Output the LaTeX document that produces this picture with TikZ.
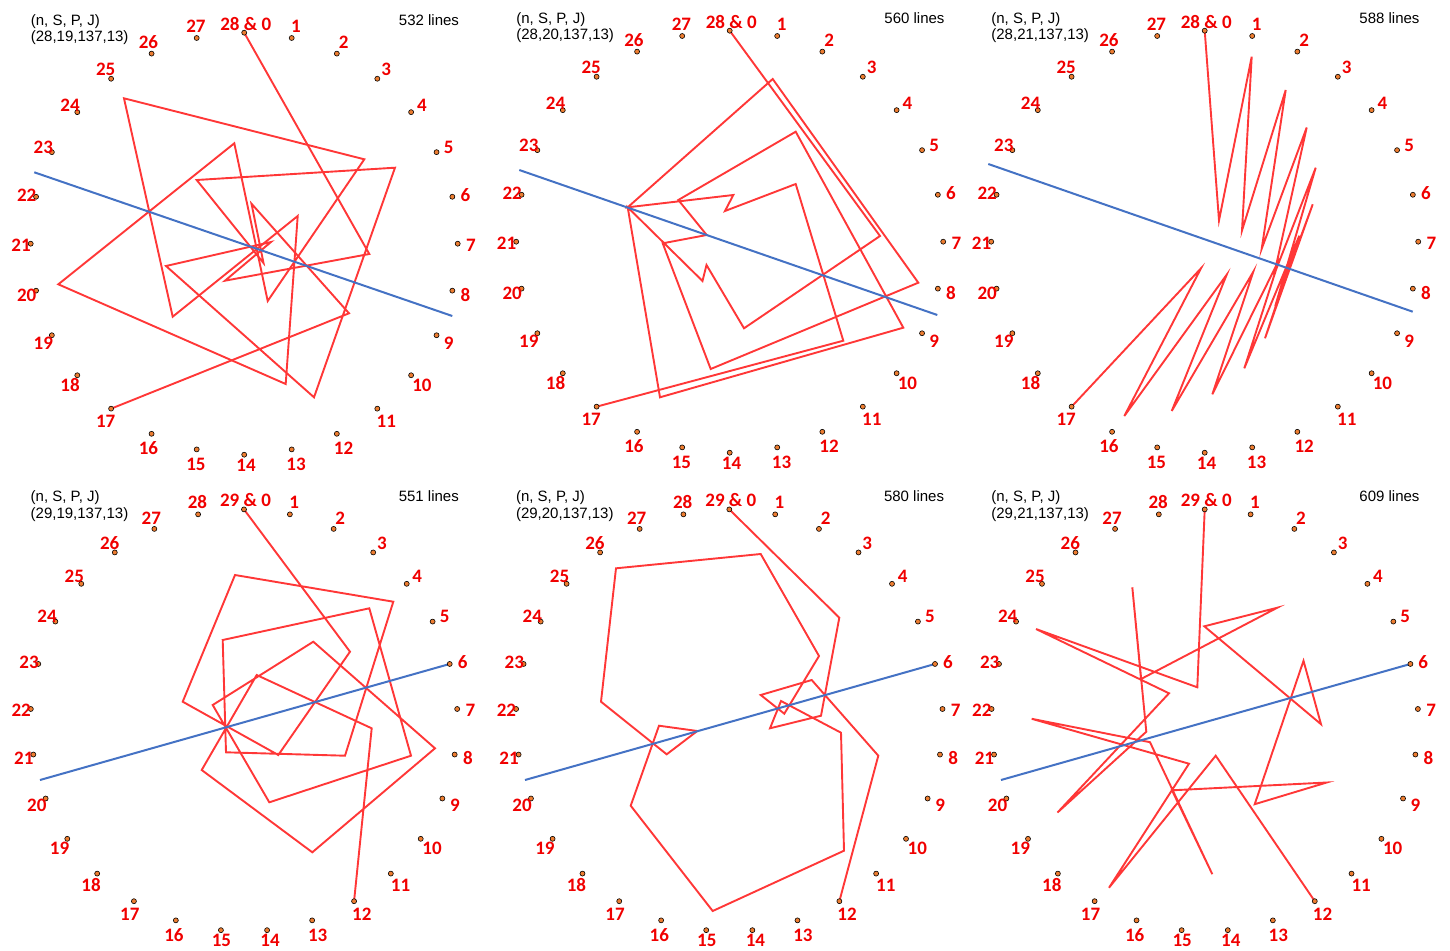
\documentclass[tikz,border=0pt]{standalone}
\usepackage{fontspec}
\newfontfamily\numfont{Carlito}
\newfontfamily\headfont{Liberation Sans}
\usetikzlibrary{backgrounds}
\definecolor{numred}{RGB}{240,0,0}
\definecolor{pathred}{RGB}{255,55,55}
\definecolor{mirrorblue}{RGB}{68,114,196}
\definecolor{dotorange}{RGB}{237,125,49}

\begin{document}
\begin{tikzpicture}[x=1pt, y=-1pt,
    dot/.style={
        circle,
        fill=dotorange,
        draw=black,
        line width=0.6pt,
        inner sep=0pt,
        minimum size=5pt
    },
    num/.style={
        font=\numfont\bfseries\fontsize{19}{19}\selectfont,
        text=numred,
        inner sep=0pt,
        text height=12pt,
        text depth=0pt
    },
    head/.style={font=\headfont\fontsize{15}{18}\selectfont, inner sep=0pt},
    walk/.style={draw=pathred, line width=1.9pt},
    mirror/.style={draw=mirrorblue, line width=2pt},
]
\useasboundingbox (0,0) rectangle (1450,950);

% === TOP ROW: n = 28 ===
\begin{scope}[shift={(244.2,243.7)}]
  \foreach \k [evaluate=\k as \a using \k*360/28] in {1,...,27} {
    \node[dot] (a\k) at ({213.5*sin(\a)},{-211*cos(\a)}) {};
    \node[num] (a\k-t) at ({1.8+225*sin(\a)},{max(-219.6,min(221.8,1.8-225*cos(\a)))}) {\k};
  }
  \node[dot] (a0) at (0,-211) {};
  \node[num] (a0-t) at (1.5,-219.6) {28 \& 0};
  \node[head, anchor=base west] (a-head) at (-213.5,-218.5) {(n, S, P, J)};
  \node[head, anchor=base west] (a-par) at (-213.5,-201.9) {(28,19,137,13)};
  \node[head, anchor=base east] (a-lines) at (215,-218.5) {532 lines};
\end{scope}

\begin{scope}[shift={(729.7,241.7)}]
  \foreach \k [evaluate=\k as \a using \k*360/28] in {1,...,27} {
    \node[dot] (b\k) at ({213.5*sin(\a)},{-211*cos(\a)}) {};
    \node[num] (b\k-t) at ({1.8+225*sin(\a)},{max(-219.6,min(221.8,1.8-225*cos(\a)))}) {\k};
  }
  \node[dot] (b0) at (0,-211) {};
  \node[num] (b0-t) at (1.5,-219.6) {28 \& 0};
  \node[head, anchor=base west] (b-head) at (-213.5,-218.5) {(n, S, P, J)};
  \node[head, anchor=base west] (b-par) at (-213.5,-201.9) {(28,20,137,13)};
  \node[head, anchor=base east] (b-lines) at (215,-218.5) {560 lines};
\end{scope}

\begin{scope}[shift={(1204.7,241.7)}]
  \foreach \k [evaluate=\k as \a using \k*360/28] in {1,...,27} {
    \node[dot] (c\k) at ({213.5*sin(\a)},{-211*cos(\a)}) {};
    \node[num] (c\k-t) at ({1.8+225*sin(\a)},{max(-219.6,min(221.8,1.8-225*cos(\a)))}) {\k};
  }
  \node[dot] (c0) at (0,-211) {};
  \node[num] (c0-t) at (1.5,-219.6) {28 \& 0};
  \node[head, anchor=base west] (c-head) at (-213.5,-218.5) {(n, S, P, J)};
  \node[head, anchor=base west] (c-par) at (-213.5,-201.9) {(28,21,137,13)};
  \node[head, anchor=base east] (c-lines) at (215,-218.5) {588 lines};
\end{scope}

% === BOTTOM ROW: n = 29 ===
\begin{scope}[shift={(244,720.4)}]
  \foreach \k [evaluate=\k as \a using \k*360/29] in {1,...,28} {
    \node[dot] (d\k) at ({213.5*sin(\a)},{-211*cos(\a)}) {};
    \node[num] (d\k-t) at ({1.8+225*sin(\a)},{max(-219.6,min(219.8,1.8-225*cos(\a)))}) {\k};
  }
  \node[dot] (d0) at (0,-211) {};
  \node[num] (d0-t) at (1.5,-219.6) {29 \& 0};
  \node[head, anchor=base west] (d-head) at (-213.5,-219) {(n, S, P, J)};
  \node[head, anchor=base west] (d-par) at (-213.5,-202.4) {(29,19,137,13)};
  \node[head, anchor=base east] (d-lines) at (215,-219) {551 lines};
\end{scope}

\begin{scope}[shift={(729.3,720.4)}]
  \foreach \k [evaluate=\k as \a using \k*360/29] in {1,...,28} {
    \node[dot] (e\k) at ({213.5*sin(\a)},{-211*cos(\a)}) {};
    \node[num] (e\k-t) at ({1.8+225*sin(\a)},{max(-219.6,min(219.8,1.8-225*cos(\a)))}) {\k};
  }
  \node[dot] (e0) at (0,-211) {};
  \node[num] (e0-t) at (1.5,-219.6) {29 \& 0};
  \node[head, anchor=base west] (e-head) at (-213.5,-219) {(n, S, P, J)};
  \node[head, anchor=base west] (e-par) at (-213.5,-202.4) {(29,20,137,13)};
  \node[head, anchor=base east] (e-lines) at (215,-219) {580 lines};
\end{scope}

\begin{scope}[shift={(1204.7,720.4)}]
  \foreach \k [evaluate=\k as \a using \k*360/29] in {1,...,28} {
    \node[dot] (f\k) at ({213.5*sin(\a)},{-211*cos(\a)}) {};
    \node[num] (f\k-t) at ({1.8+225*sin(\a)},{max(-219.6,min(219.8,1.8-225*cos(\a)))}) {\k};
  }
  \node[dot] (f0) at (0,-211) {};
  \node[num] (f0-t) at (1.5,-219.6) {29 \& 0};
  \node[head, anchor=base west] (f-head) at (-213.5,-219) {(n, S, P, J)};
  \node[head, anchor=base west] (f-par) at (-213.5,-202.4) {(29,21,137,13)};
  \node[head, anchor=base east] (f-lines) at (215,-219) {609 lines};
\end{scope}

% mirror line ends
\coordinate (a-m1) at (34.3,172.3);
\coordinate (a-m2) at (452.3,316);
\coordinate (b-m1) at (519.3,170);
\coordinate (b-m2) at (937.3,315);
\coordinate (c-m1) at (988.3,164);
\coordinate (c-m2) at (1412.7,311.7);
\coordinate (d-m1) at (40,780);
\coordinate (e-m1) at (525,780);
\coordinate (f-m1) at (1001,780);

\begin{pgfonlayer}{background}
% red walks
\draw[walk] (a0.center) -- (369.3,254) -- (225,280.7) -- (271,242) -- (166,266)
  -- (314,397.3) -- (395,167.7) -- (196.7,180) -- (263.5,263) -- (251.5,203.7)
  -- (349,313.3) -- (a17.center);
\draw[walk] (234.3,143.3) -- (267.7,301) -- (364.3,159.3) -- (124,98.3) -- (172.7,316.7)
  -- (297.7,216) -- (285.7,384) -- (58.3,284.3) -- cycle;
\draw[walk] (b0.center) -- (880,236) -- (744,328.3) -- (706.5,265) -- (702.5,281)
  -- (627.7,207.3) -- (660,397.3) -- (903.3,327.7) -- (795.7,131.7) -- (678.3,200)
  -- (706.7,235) -- (662.7,243.3) -- (710.7,369) -- (918.3,282.7) -- (772.7,79)
  -- (627.7,207.3) -- (733.3,195) -- (725,211) -- (795.7,184) -- (843.3,340.7)
  -- (b17.center);
\draw[walk] (c0.center) -- (1219,220.5) -- (1251.7,56.7) -- (1242,230.5) -- (1285.7,90)
  -- (1261.7,248.7) -- (1306.7,127.5) -- (1274,274.9) -- (1315.7,167.7) -- (1275.2,306.2)
  -- (1312.7,204.3) -- (1265,338.3) -- (1299.3,235.7) -- (1244.3,368.3) -- (1279.6,258.7)
  -- (1212.3,394.3) -- (1253.3,271.7) -- (1171.7,411) -- (1226.7,274.7) -- (1124.3,416)
  -- (1201,268.3) -- (c17.center);
\draw[walk] (d0.center) -- (350,651.7) -- (278.3,755) -- (182.7,701.7) -- (235,575)
  -- (393.3,601.7) -- (345,755.7) -- (226,752.3) -- (222.7,640) -- (369.3,608.3)
  -- (411,755.7) -- (269.3,802.3) -- (212.7,705) -- (313.3,641.7) -- (435,748.3)
  -- (312.3,852.3) -- (201.7,770) -- (256.7,675) -- (371.7,728.3) -- (d12.center);
\draw[walk] (e0.center) -- (839.3,617.7) -- (821,715.7) -- (770,728.3) -- (781,701)
  -- (841,732.7) -- (844,850.7) -- (712.7,911) -- (630.7,805.7) -- (659,725.7)
  -- (697.3,731) -- (666.7,754.3) -- (601,701.7) -- (616,568.3) -- (760.7,554)
  -- (819,656) -- (784.3,713.7) -- (760.7,695) -- (811.7,680) -- (878.3,755.7)
  -- (e12.center);
\draw[walk] (f0.center) -- (1197.3,687.3) -- (1036,629) -- (1169,693.3) -- (1057.5,812.5)
  -- (1146.3,731.7) -- (1132.3,587.3) -- (1141,679) -- (1277.3,607.7) -- (1204.3,626.3)
  -- (1321,724.2) -- (1303.5,660.8) -- (1254.7,804.2) -- (1326.7,782.5) -- (1172,790.3)
  -- (1212.3,874.2) -- (1150,742.2) -- (1031.7,718.8) -- (1189,763.7) -- (1109,887.7)
  -- (1215.7,755.7) -- (f12.center);

% blue mirror lines
\draw[mirror] (a-m1) -- (a-m2);
\draw[mirror] (b-m1) -- (b-m2);
\draw[mirror] (c-m1) -- (c-m2);
\draw[mirror] (d-m1) -- (d6.center);
\draw[mirror] (e-m1) -- (e6.center);
\draw[mirror] (f-m1) -- (f6.center);
\end{pgfonlayer}

\end{tikzpicture}
\end{document}
